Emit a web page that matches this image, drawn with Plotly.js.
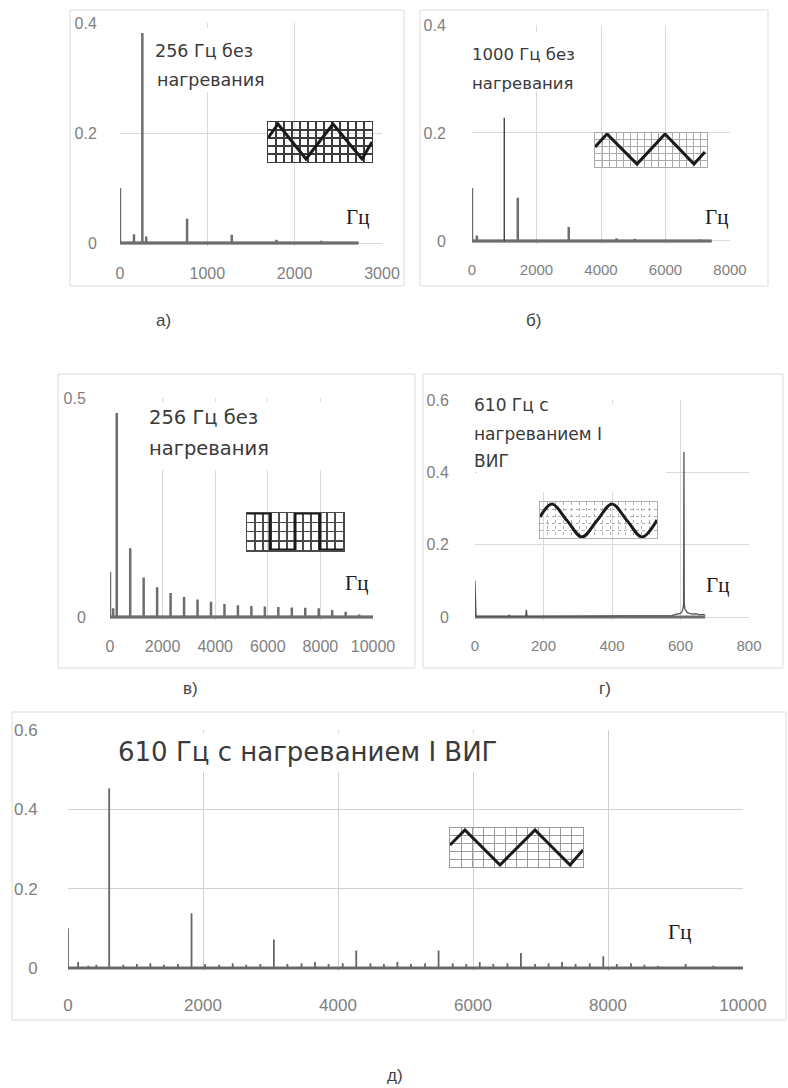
<!DOCTYPE html>
<html><head><meta charset="utf-8">
<script src="https://cdn.plot.ly/plotly-3.0.1.min.js"></script>
<style>html,body{margin:0;padding:0;background:#fff}#chart{width:788px;height:1088px}</style>
</head><body><div id="chart"></div>
<script>
const W = 788, H = 1088;

// ---- Panel а: 256 Гц без нагревания (triangle) ----
const aFreq = [0, 160, 256, 300, 768, 1280, 1792, 2304, 2730];
const aAmp  = [0.100, 0.016, 0.382, 0.012, 0.044, 0.015, 0.006, 0.004, 0];

// ---- Panel б: 1000 Гц без нагревания (triangle) ----
const bFreq = [0, 150, 1000, 1420, 3000, 4480, 5050, 7060, 7430];
const bAmp  = [0.098, 0.010, 0.228, 0.080, 0.026, 0.005, 0.004, 0.003, 0];

// ---- Panel в: 256 Гц без нагревания (square) ----
const vFreq = [0, 120, 256, 768, 1280, 1792, 2304, 2816, 3328, 3840, 4352, 4864, 5376, 5888, 6400, 6912, 7424, 7936, 8448, 8960, 9472, 10000];
const vAmp  = [0.103, 0.020, 0.466, 0.157, 0.090, 0.068, 0.055, 0.046, 0.040, 0.035, 0.030, 0.027, 0.025, 0.024, 0.023, 0.022, 0.021, 0.020, 0.016, 0.012, 0.006, 0];

// ---- Panel г: 610 Гц с нагреванием I ВИГ (sine) ----
const gFreq = [0, 0, 3, 98, 100, 102, 148, 150, 152, 555, 565, 575, 585, 595, 600, 604, 607, 609, 610, 611, 613, 616, 620, 626, 635, 645, 655, 665, 672];
const gAmp  = [0, 0.100, 0.002, 0.002, 0.006, 0.002, 0.002, 0.020, 0.002, 0.003, 0.005, 0.004, 0.007, 0.008, 0.010, 0.014, 0.022, 0.035, 0.456, 0.035, 0.022, 0.016, 0.012, 0.010, 0.008, 0.009, 0.006, 0.007, 0.005];

// ---- Panel д: 610 Гц с нагреванием I ВИГ (triangle), 0–10000 ----
const dFreq = [0, 150, 300, 420, 610, 820, 1020, 1220, 1420, 1630, 1830, 2030, 2240, 2440, 2640, 2850, 3050, 3250, 3460, 3660, 3860, 4070, 4270, 4480, 4680, 4880, 5080, 5290, 5490, 5700, 5900, 6100, 6300, 6510, 6710, 6920, 7120, 7320, 7520, 7730, 7930, 8130, 8340, 8540, 8740, 9150, 9560, 10000];
const dAmp  = [0.100, 0.015, 0.006, 0.008, 0.453, 0.008, 0.010, 0.012, 0.008, 0.010, 0.138, 0.010, 0.008, 0.012, 0.008, 0.010, 0.072, 0.010, 0.012, 0.015, 0.010, 0.012, 0.044, 0.012, 0.010, 0.015, 0.010, 0.012, 0.044, 0.012, 0.010, 0.015, 0.010, 0.012, 0.038, 0.010, 0.012, 0.015, 0.010, 0.012, 0.030, 0.010, 0.012, 0.008, 0.006, 0.010, 0.006, 0];

// ---- inset waveform sketches (grid units) ----
const waveA_x = [0, 1.25, 4.75, 8.125, 11.75, 13];
const waveA_y = [3, 4.75, 0.375, 4.75, 0.375, 2.5];
const waveB_x = [0, 1.71, 6, 10, 14.14, 15.7];
const waveB_y = [2.94, 4.85, 0.44, 4.85, 0.44, 2.2];
const waveV_x = [0, 2.875, 2.875, 6, 6, 9.125, 9.125, 12];
const waveV_y = [4, 4, 0, 0, 4, 4, 0, 0];
const waveG_x = [0, 1.54, 3.46, 5.38, 7.31, 9.23, 11.15, 13.08, 15];
const waveG_y = [2.92, 4.72, 2.43, 0.14, 2.43, 4.72, 2.43, 0.14, 2.5];
const waveD_x = [0, 1.35, 4.51, 7.67, 10.83, 12];
const waveD_y = [2.82, 4.74, 0.26, 4.74, 0.26, 2.18];

// ---- helpers ----
const PX = x => x / W, PY = y => 1 - y / H;
const SANS = 'Liberation Sans, Arial, sans-serif';
const TXT = 'DejaVu Sans, Verdana, sans-serif';
const SERIF = 'Liberation Serif, Times New Roman, serif';
const GRAY = '#6e6e6e';

function spikes(freq, amp) {
  const x = [], y = [];
  for (let i = 0; i < freq.length; i++) { x.push(freq[i], freq[i], freq[i]); y.push(0, amp[i], 0); }
  return {x, y};
}
function baseline(freq, xa, ya) {
  return {x: [Math.min(...freq), Math.max(...freq)], y: [0, 0], xaxis: xa, yaxis: ya, mode: 'lines',
          line: {color: GRAY, width: 3}, hoverinfo: 'skip', showlegend: false};
}
function spikeTrace(freq, amp, xa, ya, w, c) {
  const s = spikes(freq, amp);
  return {x: s.x, y: s.y, xaxis: xa, yaxis: ya, mode: 'lines', line: {color: c || GRAY, width: w}, hoverinfo: 'skip', showlegend: false};
}
function xAx(p0, p1, range, dtick, anchor, tl, fs, gc) {
  return {domain: [PX(p0), PX(p1)], range, dtick, tick0: 0, anchor, tickformat: 'd', showgrid: true, gridcolor: gc || '#d9d9d9', gridwidth: 1,
          zeroline: false, showline: false, ticks: 'outside', ticklen: tl, tickcolor: 'rgba(0,0,0,0)',
          tickfont: {family: SANS, size: fs, color: '#808080'}, fixedrange: true, automargin: false};
}
function yAx(pTop, pBot, range, dtick, anchor, tl, fs, gc) {
  return {domain: [PY(pBot), PY(pTop)], range, dtick, tick0: 0, anchor, showgrid: true, gridcolor: gc || '#d9d9d9', gridwidth: 1,
          zeroline: false, showline: false, ticks: 'outside', ticklen: tl, tickcolor: 'rgba(0,0,0,0)',
          tickfont: {family: SANS, size: fs, color: '#808080'}, fixedrange: true, automargin: false};
}
function inX(p0, p1, range, anchor, gc, gw, dash) {
  return {domain: [PX(p0), PX(p1)], range, dtick: 1, tick0: 0, anchor, showgrid: true, gridcolor: gc, gridwidth: gw, griddash: dash || 'solid',
          zeroline: false, showline: true, mirror: true, linecolor: gc, linewidth: gw, showticklabels: false, ticks: '', fixedrange: true};
}
function inY(pTop, pBot, range, anchor, gc, gw, dash) {
  return {domain: [PY(pBot), PY(pTop)], range, dtick: 1, tick0: 0, anchor, showgrid: true, gridcolor: gc, gridwidth: gw, griddash: dash || 'solid',
          zeroline: false, showline: true, mirror: true, linecolor: gc, linewidth: gw, showticklabels: false, ticks: '', fixedrange: true};
}
function wave(x, y, xa, ya, shape) {
  return {x, y, xaxis: xa, yaxis: ya, mode: 'lines', line: {color: '#1a1a1a', width: 3, shape: shape || 'linear'}, hoverinfo: 'skip', showlegend: false};
}

// б: main spike drawn thin
const bMainIdx = bAmp.indexOf(Math.max(...bAmp));
const bThinF = [bFreq[bMainIdx]], bThinA = [bAmp[bMainIdx]];
const bRestF = bFreq.filter((_, i) => i !== bMainIdx), bRestA = bAmp.filter((_, i) => i !== bMainIdx);

const data = [
  baseline(aFreq, 'x', 'y'), spikeTrace(aFreq, aAmp, 'x', 'y', 2.5),
  baseline(bFreq, 'x2', 'y2'), spikeTrace(bRestF, bRestA, 'x2', 'y2', 2.5), spikeTrace(bThinF, bThinA, 'x2', 'y2', 1.3, '#333'),
  baseline(vFreq, 'x3', 'y3'), spikeTrace(vFreq, vAmp, 'x3', 'y3', 2.5),
  baseline(gFreq, 'x4', 'y4'),
  {x: gFreq, y: gAmp, xaxis: 'x4', yaxis: 'y4', mode: 'lines', line: {color: '#555', width: 1.3}, hoverinfo: 'skip', showlegend: false},
  baseline(dFreq, 'x5', 'y5'), spikeTrace(dFreq, dAmp, 'x5', 'y5', 1.8, '#666'),
  wave(waveA_x, waveA_y, 'x6', 'y6'),
  wave(waveB_x, waveB_y, 'x7', 'y7'),
  wave(waveV_x, waveV_y, 'x8', 'y8'),
  wave(waveG_x, waveG_y, 'x9', 'y9', 'spline'),
  wave(waveD_x, waveD_y, 'x10', 'y10')
];

function txt(text, x, y, size, opts) {
  return Object.assign({text, xref: 'paper', yref: 'paper', x: PX(x), y: PY(y), xanchor: 'left', yanchor: 'middle',
    showarrow: false, font: {family: TXT, size, color: '#3a3a3a'}}, opts || {});
}
function hz(x, y) { return txt('Гц', x, y, 21, {xanchor: 'center', font: {family: SERIF, size: 21, color: '#1a1a1a'}}); }
function lab(t, x, y) { return txt(t, x, y, 17, {xanchor: 'center', font: {family: SANS, size: 17, color: '#444'}}); }

const annotations = [
  txt('256 Гц без', 153, 51, 17.5), txt('нагревания', 155, 80, 17.5),
  txt('1000 Гц без', 470, 55, 16.5), txt('нагревания', 470, 83, 16.5),
  txt('256 Гц без', 147, 417, 19.5), txt('нагревания', 147, 448, 19.5),
  txt('610 Гц с', 472, 405, 17), txt('нагреванием I', 472, 434, 17), txt('ВИГ', 472, 461, 17),
  txt('610 Гц с нагреванием I ВИГ', 116, 752, 26),
  hz(357, 217), hz(716, 217), hz(356, 583), hz(717, 585), hz(679, 932),
  lab('а)', 163, 320), lab('б)', 533, 320), lab('в)', 190, 688), lab('г)', 605, 688), lab('д)', 395, 1075)
];

function box(x0, y0, x1, y1) {
  return {type: 'rect', xref: 'paper', yref: 'paper', x0: PX(x0), x1: PX(x1), y0: PY(y1), y1: PY(y0),
          line: {color: '#dcdcdc', width: 1}, fillcolor: 'rgba(0,0,0,0)', layer: 'below'};
}
function blank(x0, y0, x1, y1) {
  return {type: 'rect', xref: 'paper', yref: 'paper', x0: PX(x0), x1: PX(x1), y0: PY(y1), y1: PY(y0),
          line: {width: 0}, fillcolor: '#ffffff', layer: 'above'};
}
const shapes = [
  box(70, 10, 404, 286), box(420, 10, 768, 286), box(58, 374, 415, 668), box(423, 374, 783, 668), box(12, 712, 786, 1020),
  blank(146, 28, 288, 92), blank(474, 32, 585, 92), blank(120, 402, 366, 470), blank(477, 404, 666, 492), blank(112, 733, 548, 772)
];

const layout = {
  width: W, height: H, margin: {l: 0, r: 0, t: 0, b: 0}, paper_bgcolor: '#ffffff', plot_bgcolor: 'rgba(0,0,0,0)',
  showlegend: false,
  xaxis:  xAx(120, 382, [0, 3000], 1000, 'y', 12, 16),
  yaxis:  yAx(23, 246.3, [-0.006, 0.4], 0.2, 'x', 19, 16),
  xaxis2: xAx(472, 730, [0, 8000], 2000, 'y2', 12, 15),
  yaxis2: yAx(25, 244.2, [-0.006, 0.4], 0.2, 'x2', 22, 16),
  xaxis3: xAx(110, 373, [0, 10000], 2000, 'y3', 12, 16),
  yaxis3: yAx(398, 620.1, [-0.007, 0.5], 0.5, 'x3', 20, 16),
  xaxis4: xAx(475, 749, [0, 800], 200, 'y4', 12, 15),
  yaxis4: yAx(400, 619.9, [-0.008, 0.6], 0.2, 'x4', 22, 16),
  xaxis5: xAx(68, 743, [0, 10000], 2000, 'y5', 18, 17, '#d0d0d0'),
  yaxis5: yAx(730, 971.2, [-0.008, 0.6], 0.2, 'x5', 26, 17, '#d0d0d0'),
  xaxis6: inX(268, 372, [0, 13], 'y6', '#3c3c3c', 1.3), yaxis6: inY(122, 162, [0, 5], 'x6', '#3c3c3c', 1.3),
  xaxis7: inX(595, 707, [0, 16], 'y7', '#aaaaaa', 1), yaxis7: inY(133, 167, [0, 5], 'x7', '#aaaaaa', 1),
  xaxis8: inX(247, 343, [0, 12], 'y8', '#4a4a4a', 1.5), yaxis8: inY(513, 550, [0, 4], 'x8', '#4a4a4a', 1.5),
  xaxis9: inX(540, 657, [0, 15], 'y9', '#b0b0b0', 1, 'dot'), yaxis9: inY(502, 538, [0, 5], 'x9', '#b0b0b0', 1, 'dot'),
  xaxis10: inX(450, 583, [0, 12], 'y10', '#9a9a9a', 1), yaxis10: inY(828, 867, [0, 5], 'x10', '#9a9a9a', 1),
  annotations, shapes
};

Plotly.newPlot('chart', data, layout, {staticPlot: true, displayModeBar: false});
</script></body></html>
